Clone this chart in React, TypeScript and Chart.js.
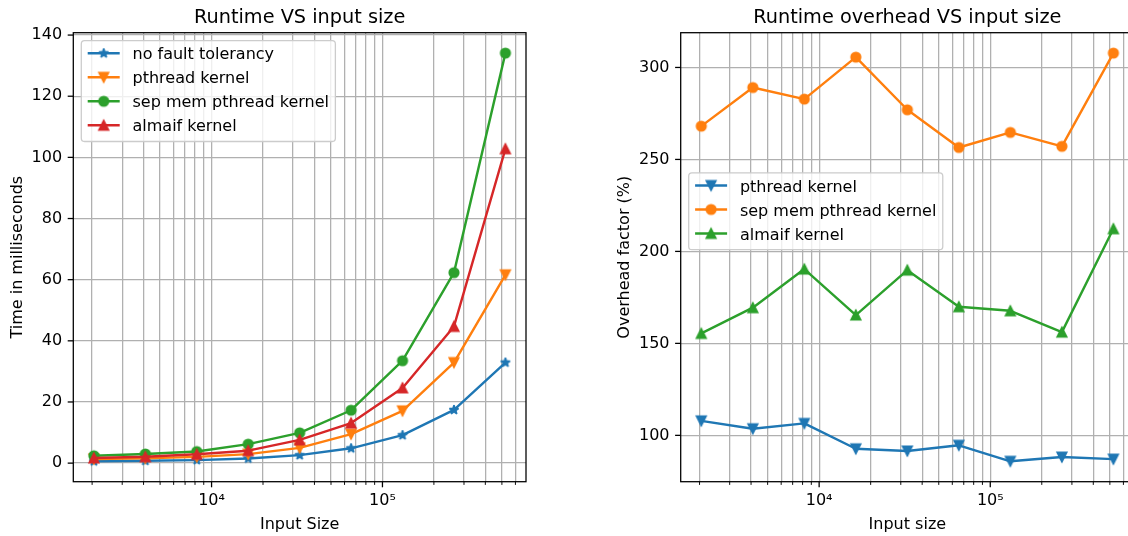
import React, { useEffect, useRef } from 'react';
import { Chart, registerables } from 'chart.js';

Chart.register(...registerables);

// Problem sizes shared by both panels
const inputSizes = [2048, 4096, 8192, 16384, 32768, 65536, 131072, 262144, 524288];

// Runtime in milliseconds
const runtimeNoFaultTolerancy = [0.6, 0.77, 0.99, 1.53, 2.6, 4.85, 9.15, 17.4, 32.9];
const runtimePthread = [1.35, 1.57, 2.05, 2.95, 5.0, 9.5, 17.1, 32.9, 61.6];
const runtimeSepMemPthread = [2.4, 3.0, 3.8, 6.2, 9.9, 17.3, 33.5, 62.3, 134.1];
const runtimeAlmaif = [1.66, 2.08, 2.88, 4.07, 7.6, 13.1, 24.6, 44.7, 102.8];

// Overhead factor (%) relative to the run without fault tolerance
const overheadPthread = [107.9, 103.6, 106.5, 92.7, 91.5, 94.6, 85.9, 88.2, 87.1];
const overheadSepMemPthread = [268.1, 289.1, 282.8, 305.6, 277.0, 256.5, 264.7, 257.1, 307.8];
const overheadAlmaif = [155.4, 169.4, 190.4, 165.4, 189.8, 169.9, 167.7, 156.1, 212.3];

// Axis ticks
const runtimeTickValues = [0, 20, 40, 60, 80, 100, 120, 140];
const overheadTickValues = [100, 150, 200, 250, 300];
const sizeTickValues = [
  2000, 3000, 4000, 5000, 6000, 7000, 8000, 9000,
  10000, 20000, 30000, 40000, 50000, 60000, 70000, 80000, 90000,
  100000, 200000, 300000, 400000, 500000, 600000,
];

const FONT = '"DejaVu Sans", "Noto Sans", sans-serif';
const PT = 1.6; // pixels per point
const COLORS = { blue: '#1f77b4', orange: '#ff7f0e', green: '#2ca02c', red: '#d62728' };

const AREA_TOP = 32.7;
const X_AXIS_H = 54.3;

type MarkerShape = 'star' | 'down' | 'up' | 'circle';
type Series = { label: string; values: number[]; color: string; marker: MarkerShape };

const SUPERSCRIPTS: Record<string, string> = {
  '0': '⁰', '1': '¹', '2': '²', '3': '³', '4': '⁴', '5': '⁵', '6': '⁶', '7': '⁷', '8': '⁸', '9': '⁹', '-': '⁻',
};

function isPow10(v: number): boolean {
  const l = Math.log10(v);
  return Math.abs(l - Math.round(l)) < 1e-9;
}

function pow10Label(v: number): string {
  const e = String(Math.round(Math.log10(v)));
  return '10' + e.split('').map((c) => SUPERSCRIPTS[c] ?? c).join('');
}

function logRange(values: number[]): [number, number] {
  const lo = Math.log10(Math.min(...values));
  const hi = Math.log10(Math.max(...values));
  const m = (hi - lo) * 0.05;
  return [Math.pow(10, lo - m), Math.pow(10, hi + m)];
}

function linRange(series: number[][]): [number, number] {
  const all = series.flat();
  const lo = Math.min(...all);
  const hi = Math.max(...all);
  const m = (hi - lo) * 0.05;
  return [lo - m, hi + m];
}

// Filled marker glyphs (line-plot style: face and edge in the series colour)
function makeMarker(shape: MarkerShape, color: string): HTMLCanvasElement {
  const size = 20;
  const c = document.createElement('canvas');
  c.width = size;
  c.height = size;
  const g = c.getContext('2d')!;
  const cx = size / 2;
  const cy = size / 2;
  const r = (6 * PT) / 2;
  g.fillStyle = color;
  g.strokeStyle = color;
  g.lineWidth = 1 * PT;
  g.beginPath();
  if (shape === 'circle') {
    g.arc(cx, cy, r, 0, Math.PI * 2);
  } else if (shape === 'up') {
    g.lineJoin = 'miter';
    g.moveTo(cx, cy - r);
    g.lineTo(cx - r, cy + r);
    g.lineTo(cx + r, cy + r);
    g.closePath();
  } else if (shape === 'down') {
    g.lineJoin = 'miter';
    g.moveTo(cx, cy + r);
    g.lineTo(cx - r, cy - r);
    g.lineTo(cx + r, cy - r);
    g.closePath();
  } else {
    g.lineJoin = 'bevel';
    for (let k = 0; k < 10; k++) {
      const a = -Math.PI / 2 + (k * Math.PI) / 5;
      const rad = k % 2 === 0 ? r : r * 0.381966;
      const px = cx + rad * Math.cos(a);
      const py = cy + rad * Math.sin(a);
      if (k === 0) g.moveTo(px, py);
      else g.lineTo(px, py);
    }
    g.closePath();
  }
  g.fill();
  g.stroke();
  return c;
}

function roundRect(ctx: CanvasRenderingContext2D, x: number, y: number, w: number, h: number, r: number) {
  ctx.beginPath();
  ctx.moveTo(x + r, y);
  ctx.lineTo(x + w - r, y);
  ctx.arcTo(x + w, y, x + w, y + r, r);
  ctx.lineTo(x + w, y + h - r);
  ctx.arcTo(x + w, y + h, x + w - r, y + h, r);
  ctx.lineTo(x + r, y + h);
  ctx.arcTo(x, y + h, x, y + h - r, r);
  ctx.lineTo(x, y + r);
  ctx.arcTo(x, y, x + r, y, r);
  ctx.closePath();
}

// Frame, tick marks, titles and the boxed legend
const decorPlugin = {
  id: 'decor',
  afterDraw(chart: any, _args: any, opts: any) {
    const ctx: CanvasRenderingContext2D = chart.ctx;
    const { left, right, top, bottom } = chart.chartArea;
    const xs = chart.scales.x;
    const ys = chart.scales.y;
    ctx.save();

    // tick marks, pointing outwards
    ctx.strokeStyle = '#000';
    for (const t of xs.ticks) {
      const px = xs.getPixelForValue(t.value);
      const major = isPow10(t.value);
      ctx.lineWidth = major ? 0.8 * PT : 0.6 * PT;
      ctx.beginPath();
      ctx.moveTo(px, bottom);
      ctx.lineTo(px, bottom + (major ? 3.5 * PT : 2 * PT));
      ctx.stroke();
    }
    ctx.lineWidth = 0.8 * PT;
    for (const t of ys.ticks) {
      const py = ys.getPixelForValue(t.value);
      ctx.beginPath();
      ctx.moveTo(left, py);
      ctx.lineTo(left - 3.5 * PT, py);
      ctx.stroke();
    }

    // axes frame
    ctx.lineWidth = 0.8 * PT;
    ctx.strokeRect(left, top, right - left, bottom - top);

    // title and axis labels
    ctx.fillStyle = '#000';
    ctx.textAlign = 'center';
    ctx.textBaseline = 'alphabetic';
    ctx.font = `19.3px ${FONT}`;
    ctx.fillText(opts.title, (left + right) / 2, top - 9.7);
    ctx.font = `16px ${FONT}`;
    ctx.fillText(opts.xLabel, (left + right) / 2, bottom + 47.1);
    ctx.save();
    ctx.translate(left - 51.6, (top + bottom) / 2);
    ctx.rotate(-Math.PI / 2);
    ctx.fillText(opts.yLabel, 0, 0);
    ctx.restore();

    // legend
    const datasets = chart.data.datasets;
    ctx.font = `16px ${FONT}`;
    const textW = Math.max(...datasets.map((d: any) => ctx.measureText(d.label).width));
    const fs = 16;
    const pad = 0.4 * fs;
    const handleLen = 2 * fs;
    const handleGap = 0.8 * fs;
    const rowH = 16;
    const rowGap = 0.5 * fs;
    const bx = left + 8;
    const by = top + opts.legendTop;
    const bw = pad + handleLen + handleGap + textW + pad;
    const bh = pad * 2 + rowH * datasets.length + rowGap * (datasets.length - 1);
    roundRect(ctx, bx, by, bw, bh, 0.2 * fs);
    ctx.fillStyle = 'rgba(255,255,255,0.8)';
    ctx.fill();
    ctx.strokeStyle = '#cccccc';
    ctx.lineWidth = 0.8 * PT;
    ctx.stroke();
    datasets.forEach((d: any, i: number) => {
      const baseline = by + pad + 12.2 + i * (rowH + rowGap);
      const hy = baseline - 6;
      const hx = bx + pad;
      ctx.strokeStyle = d.borderColor;
      ctx.lineWidth = 1.5 * PT;
      ctx.lineCap = 'butt';
      ctx.beginPath();
      ctx.moveTo(hx, hy);
      ctx.lineTo(hx + handleLen, hy);
      ctx.stroke();
      const img: HTMLCanvasElement = d.pointStyle;
      ctx.drawImage(img, hx + handleLen / 2 - img.width / 2, hy - img.height / 2);
      ctx.fillStyle = '#000';
      ctx.textAlign = 'left';
      ctx.fillText(d.label, hx + handleLen + handleGap, baseline);
    });

    ctx.restore();
  },
};

type PanelSpec = {
  series: Series[];
  yTicks: number[];
  title: string;
  xLabel: string;
  yLabel: string;
  axisWidth: number;
  padRight: number;
  legendTop: number;
};

function buildConfig(p: PanelSpec): any {
  const [xMin, xMax] = logRange(inputSizes);
  const [yMin, yMax] = linRange(p.series.map((s) => s.values));
  const n = p.series.length;
  const gridStyle = { color: '#b0b0b0', lineWidth: 0.8 * PT, drawTicks: false };
  return {
    type: 'line',
    data: {
      datasets: p.series.map((s, i) => ({
        label: s.label,
        data: inputSizes.map((x, j) => ({ x, y: s.values[j] })),
        borderColor: s.color,
        backgroundColor: s.color,
        borderWidth: 1.5 * PT,
        borderJoinStyle: 'round',
        pointStyle: makeMarker(s.marker, s.color),
        pointRadius: 5,
        pointHoverRadius: 5,
        tension: 0,
        fill: false,
        order: n - i,
      })),
    },
    options: {
      responsive: false,
      animation: false,
      devicePixelRatio: 1,
      events: [],
      layout: { padding: { left: 0, top: AREA_TOP, right: p.padRight, bottom: 0 } },
      plugins: {
        legend: { display: false },
        tooltip: { enabled: false },
        title: { display: false },
        decor: { title: p.title, xLabel: p.xLabel, yLabel: p.yLabel, legendTop: p.legendTop },
      },
      scales: {
        x: {
          type: 'logarithmic',
          min: xMin,
          max: xMax,
          bounds: 'data',
          grid: gridStyle,
          border: { display: false },
          afterBuildTicks: (s: any) => {
            s.ticks = sizeTickValues.filter((v) => v >= xMin && v <= xMax).map((v) => ({ value: v }));
          },
          afterFit: (s: any) => {
            s.height = X_AXIS_H;
          },
          ticks: {
            autoSkip: false,
            maxRotation: 0,
            minRotation: 0,
            padding: 10,
            color: '#000',
            font: { family: FONT, size: 16 },
            callback: (v: number) => (isPow10(v) ? pow10Label(v) : ''),
          },
        },
        y: {
          type: 'linear',
          min: yMin,
          max: yMax,
          bounds: 'data',
          grid: gridStyle,
          border: { display: false },
          afterBuildTicks: (s: any) => {
            s.ticks = p.yTicks.map((v) => ({ value: v }));
          },
          afterFit: (s: any) => {
            s.width = p.axisWidth;
          },
          ticks: {
            padding: 7 * PT,
            color: '#000',
            font: { family: FONT, size: 16 },
            callback: (v: number) => String(v),
          },
        },
      },
    },
    plugins: [decorPlugin],
  };
}

function Panel({ spec, left, width }: { spec: PanelSpec; left: number; width: number }) {
  const ref = useRef<HTMLCanvasElement>(null);
  useEffect(() => {
    const chart = new Chart(ref.current!, buildConfig(spec));
    return () => chart.destroy();
  }, []);
  return (
    <canvas
      ref={ref}
      width={width}
      height={536}
      style={{ position: 'absolute', left, top: 0, width, height: 536 }}
    />
  );
}

const runtimePanel: PanelSpec = {
  series: [
    { label: 'no fault tolerancy', values: runtimeNoFaultTolerancy, color: COLORS.blue, marker: 'star' },
    { label: 'pthread kernel', values: runtimePthread, color: COLORS.orange, marker: 'down' },
    { label: 'sep mem pthread kernel', values: runtimeSepMemPthread, color: COLORS.green, marker: 'circle' },
    { label: 'almaif kernel', values: runtimeAlmaif, color: COLORS.red, marker: 'up' },
  ],
  yTicks: runtimeTickValues,
  title: 'Runtime VS input size',
  xLabel: 'Input Size',
  yLabel: 'Time in milliseconds',
  axisWidth: 73.3,
  padRight: 38,
  legendTop: 8,
};

const overheadPanel: PanelSpec = {
  series: [
    { label: 'pthread kernel', values: overheadPthread, color: COLORS.blue, marker: 'down' },
    { label: 'sep mem pthread kernel', values: overheadSepMemPthread, color: COLORS.orange, marker: 'circle' },
    { label: 'almaif kernel', values: overheadAlmaif, color: COLORS.green, marker: 'up' },
  ],
  yTicks: overheadTickValues,
  title: 'Runtime overhead VS input size',
  xLabel: 'Input size',
  yLabel: 'Overhead factor (%)',
  axisWidth: 116.7,
  padRight: 30,
  legendTop: 140.2,
};

export default function App() {
  return (
    <div
      style={{
        position: 'fixed',
        left: 0,
        top: 0,
        width: 1128,
        height: 536,
        overflow: 'hidden',
        background: '#fff',
      }}
    >
      <Panel spec={runtimePanel} left={0} width={564} />
      <Panel spec={overheadPanel} left={564} width={600} />
    </div>
  );
}
